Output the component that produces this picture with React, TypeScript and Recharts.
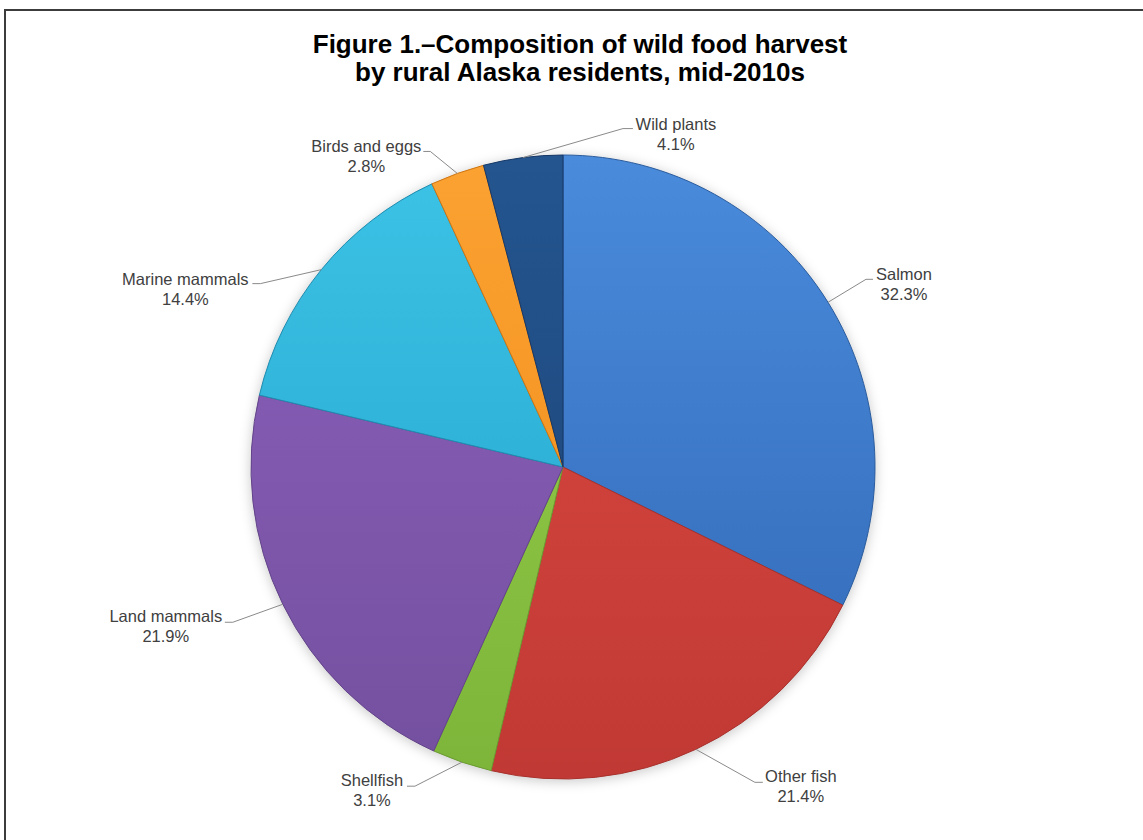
import React from 'react';
import { PieChart, Pie, Cell } from 'recharts';

// Wild food harvest shares, clockwise from 12 o'clock
const categories = [
  'Salmon',
  'Other fish',
  'Shellfish',
  'Land mammals',
  'Marine mammals',
  'Birds and eggs',
  'Wild plants',
];
const shares = [32.3, 21.4, 3.1, 21.9, 14.4, 2.8, 4.1];
const titleLines = [
  'Figure 1.–Composition of wild food harvest',
  'by rural Alaska residents, mid-2010s',
];

// [light top, dark bottom, edge] per slice
const sliceColors: string[][] = [
  ['#4A8BDC', '#3067B4', '#2A5C9E'],
  ['#DD4A43', '#C13934', '#A8302C'],
  ['#98CF4C', '#7DB53A', '#6C9C33'],
  ['#8C60BC', '#74509F', '#63438A'],
  ['#3CC3E6', '#23A1C9', '#1E8CB0'],
  ['#FBA232', '#EF8A17', '#CF7612'],
  ['#24558F', '#1B4275', '#163866'],
];

// leader elbow (ex, ey) relative to the slice edge, horizontal run (hx),
// text centre (tx) relative to the elbow, first baseline shift (ty)
const labelLayout: Record<string, { ex: number; ey: number; hx: number; tx: number; ty: number }> = {
  'Salmon': { ex: 38, ey: -23, hx: 7, tx: 38, ty: 1 },
  'Other fish': { ex: 59, ey: 33, hx: 8, tx: 46, ty: 0 },
  'Shellfish': { ex: -47, ey: 24, hx: -8, tx: -43, ty: 0 },
  'Land mammals': { ex: -50, ey: 18, hx: -8, tx: -67, ty: 0 },
  'Marine mammals': { ex: -61, ey: 14, hx: -8, tx: -75, ty: 1 },
  'Birds and eggs': { ex: -27, ey: -22, hx: -7, tx: -64, ty: 1 },
  'Wild plants': { ex: 100, ey: -29, hx: 10, tx: 53, ty: 1 },
};

const data = categories.map((name, i) => ({ name, value: shares[i] }));
const shadowData = [{ name: 'shadow', value: 1 }];

const FONT = '"Liberation Sans", Arial, Helvetica, sans-serif';
const RAD = Math.PI / 180;

const renderLabel = (props: any) => {
  const { cx, cy, midAngle, outerRadius, index } = props;
  const name = categories[index];
  const value = shares[index];
  const l = labelLayout[name];
  const px = cx + outerRadius * Math.cos(-midAngle * RAD);
  const py = cy + outerRadius * Math.sin(-midAngle * RAD);
  const ex = px + l.ex;
  const ey = py + l.ey;
  const hx = ex + l.hx;
  const tx = ex + l.tx;
  return (
    <g key={`lbl-${name}`}>
      <polyline
        points={`${px},${py} ${ex},${ey} ${hx},${ey}`}
        fill="none"
        stroke="#8a8a8a"
        strokeWidth={1}
      />
      <text
        x={tx}
        y={ey + l.ty}
        textAnchor="middle"
        fill="#404040"
        fontSize={16.5}
        fontFamily={FONT}
      >
        <tspan x={tx} dy={0}>{name}</tspan>
        <tspan x={tx} dy={20}>{value.toFixed(1)}%</tspan>
      </text>
    </g>
  );
};

const CX = 563;
const CY = 467;
const R = 312;

export default function App() {
  return (
    <div
      style={{
        position: 'absolute',
        left: 0,
        top: 0,
        width: 1143,
        height: 840,
        overflow: 'hidden',
        background: '#ffffff',
      }}
    >
      <svg width={0} height={0} style={{ position: 'absolute' }}>
        <defs>
          {sliceColors.map((c, i) => (
            <linearGradient
              key={i}
              id={`slice-grad-${i}`}
              gradientUnits="userSpaceOnUse"
              x1={0}
              y1={CY - R}
              x2={0}
              y2={CY + R}
            >
              <stop offset="0%" stopColor={c[0]} />
              <stop offset="100%" stopColor={c[1]} />
            </linearGradient>
          ))}
          <filter id="pie-shadow" x="-20%" y="-20%" width="140%" height="140%">
            <feGaussianBlur stdDeviation="6" />
          </filter>
        </defs>
      </svg>

      <svg
        width={1143}
        height={840}
        style={{ position: 'absolute', left: 0, top: 0 }}
      >
        <line x1={4} y1={10} x2={1143} y2={10} stroke="#3c3c3c" strokeWidth={2} />
        <line x1={5} y1={9} x2={5} y2={840} stroke="#3c3c3c" strokeWidth={2} />
        {titleLines.map((t, i) => (
          <text
            key={i}
            x={580}
            y={53 + i * 28}
            textAnchor="middle"
            fontFamily={FONT}
            fontWeight="bold"
            fontSize={26}
            fill="#000000"
          >
            {t}
          </text>
        ))}
      </svg>

      <div style={{ position: 'absolute', left: 0, top: 0 }}>
        <PieChart
          width={1143}
          height={840}
          margin={{ top: 0, right: 0, bottom: 0, left: 0 }}
        >
          <Pie
            data={shadowData}
            dataKey="value"
            cx={CX}
            cy={CY + 2}
            outerRadius={R + 1}
            startAngle={90}
            endAngle={-270}
            isAnimationActive={false}
            stroke="none"
            label={false}
            labelLine={false}
          >
            <Cell fill="#000000" fillOpacity={0.2} filter="url(#pie-shadow)" />
          </Pie>
          <Pie
            data={data}
            dataKey="value"
            nameKey="name"
            cx={CX}
            cy={CY}
            outerRadius={R}
            startAngle={90}
            endAngle={-270}
            isAnimationActive={false}
            label={renderLabel}
            labelLine={false}
          >
            {data.map((d, i) => (
              <Cell
                key={d.name}
                fill={`url(#slice-grad-${i})`}
                stroke={sliceColors[i][2]}
                strokeWidth={1}
              />
            ))}
          </Pie>
        </PieChart>
      </div>
    </div>
  );
}
